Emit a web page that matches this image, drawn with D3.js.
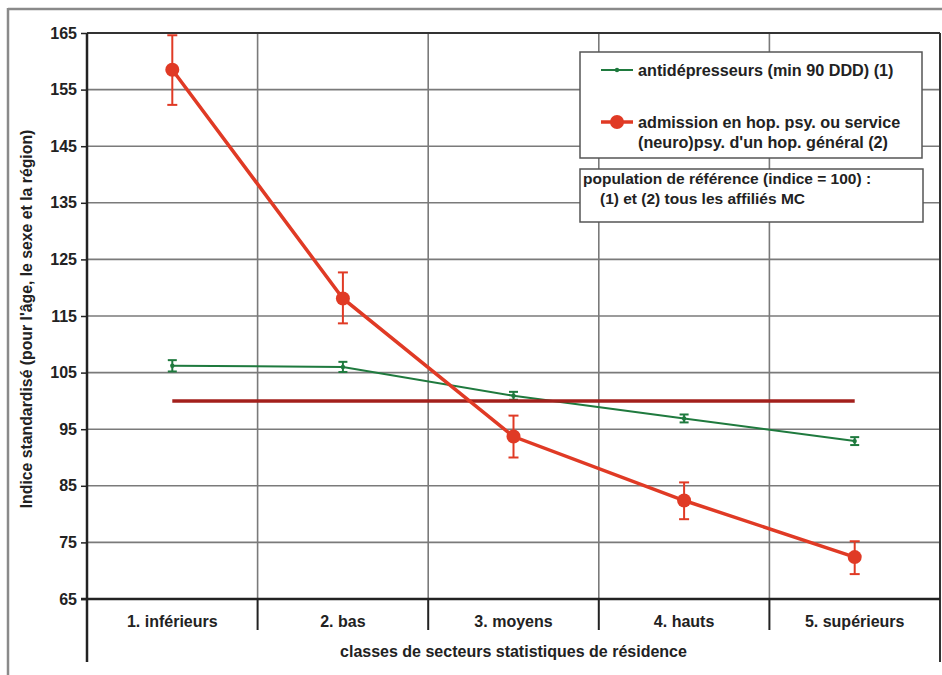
<!DOCTYPE html>
<html>
<head>
<meta charset="utf-8">
<script src="https://cdn.jsdelivr.net/npm/d3@7"></script>
<style>
  html, body { margin: 0; padding: 0; background: #fff; }
  svg { display: block; font-family: "Liberation Sans", Arial, sans-serif; }
</style>
</head>
<body>
<svg id="chart" width="942" height="675"></svg>
<script>
const categories = ["1. inférieurs", "2. bas", "3. moyens", "4. hauts", "5. supérieurs"];
const yTicks = [65, 75, 85, 95, 105, 115, 125, 135, 145, 155, 165];

const antiValues = [106.2, 106.0, 100.9, 96.9, 92.9];
const antiLow    = [105.2, 105.1, 100.2, 96.2, 92.2];
const antiHigh   = [107.2, 106.9, 101.6, 97.6, 93.6];

const admValues  = [158.5, 118.1, 93.7, 82.4, 72.4];
const admLow     = [152.3, 113.7, 90.0, 79.1, 69.4];
const admHigh    = [164.6, 122.7, 97.4, 85.6, 75.2];

const refValue = 100;

const antiLabel = "antidépresseurs (min 90 DDD) (1)";
const admLabel = ["admission en hop. psy. ou service", "(neuro)psy. d'un hop. général (2)"];
const refLabel = ["population de référence (indice = 100) :", "(1) et (2) tous les affiliés MC"];
const yTitle = "Indice standardisé (pour l'âge, le sexe et la région)";
const xTitle = "classes de secteurs statistiques de résidence";

const svg = d3.select("#chart");
const L = 87, R = 940, T = 33, B = 599;

const x = d3.scaleBand().domain(categories).range([L, R]);
const y = d3.scaleLinear().domain([65, 165]).range([B, T]);
const cx = c => x(c) + x.bandwidth() / 2;

// outer frame
svg.append("line").attr("x1", 8).attr("x2", 942).attr("y1", 9).attr("y2", 9)
  .attr("stroke", "#8a8a8a").attr("stroke-width", 2.5);
svg.append("line").attr("x1", 8).attr("x2", 8).attr("y1", 8).attr("y2", 675)
  .attr("stroke", "#8a8a8a").attr("stroke-width", 2.5);

// horizontal grid
svg.append("g").selectAll("line").data(yTicks.filter(t => t > 65 && t < 165)).join("line")
  .attr("x1", L).attr("x2", R).attr("y1", d => y(d)).attr("y2", d => y(d))
  .attr("stroke", "#7a7a7a").attr("stroke-width", 1.6);
// vertical grid
svg.append("g").selectAll("line").data(categories.slice(1)).join("line")
  .attr("x1", d => x(d)).attr("x2", d => x(d)).attr("y1", T).attr("y2", B)
  .attr("stroke", "#7a7a7a").attr("stroke-width", 1.6);

// top and right border of plot
svg.append("line").attr("x1", L).attr("x2", R).attr("y1", T).attr("y2", T)
  .attr("stroke", "#333").attr("stroke-width", 2);
svg.append("line").attr("x1", R).attr("x2", R).attr("y1", T).attr("y2", 662)
  .attr("stroke", "#333").attr("stroke-width", 2);

// y axis
const yAxis = d3.axisLeft(y).tickValues(yTicks).tickSize(6).tickPadding(4);
const gy = svg.append("g").attr("transform", `translate(${L},0)`).call(yAxis);
gy.select(".domain").remove();
gy.selectAll(".tick line").attr("stroke", "#222").attr("stroke-width", 1.5);
gy.selectAll(".tick text").attr("font-size", 16).attr("font-weight", "bold").attr("fill", "#222")
  .attr("font-family", "'Liberation Sans', Arial, sans-serif");
svg.append("line").attr("x1", L).attr("x2", L).attr("y1", T).attr("y2", 662)
  .attr("stroke", "#222").attr("stroke-width", 2.5);
// x axis baseline
svg.append("line").attr("x1", L - 6).attr("x2", R).attr("y1", B).attr("y2", B)
  .attr("stroke", "#222").attr("stroke-width", 2.5);

// category separators and labels
svg.append("g").selectAll("line").data(categories.slice(1)).join("line")
  .attr("x1", d => x(d)).attr("x2", d => x(d)).attr("y1", B).attr("y2", 630)
  .attr("stroke", "#222").attr("stroke-width", 2);
svg.append("g").selectAll("text").data(categories).join("text")
  .attr("x", d => cx(d)).attr("y", 627).attr("text-anchor", "middle")
  .attr("font-size", 16).attr("font-weight", "bold").attr("fill", "#222")
  .text(d => d);
svg.append("text").attr("x", (L + R) / 2).attr("y", 657).attr("text-anchor", "middle")
  .attr("font-size", 16).attr("font-weight", "bold").attr("fill", "#222")
  .text(xTitle);

// y title
svg.append("text").attr("transform", `translate(32,${(T + B) / 2 + 3}) rotate(-90)`)
  .attr("text-anchor", "middle").attr("font-size", 15.8).attr("font-weight", "bold").attr("fill", "#222")
  .text(yTitle);

const line = d3.line().x(d => cx(d.c)).y(d => y(d.v));
const green = "#1f7a3e", red = "#e03a25", darkRed = "#a3201c";

// green series
const antiData = categories.map((c, i) => ({ c, v: antiValues[i], lo: antiLow[i], hi: antiHigh[i] }));
svg.append("path").datum(antiData).attr("d", line).attr("fill", "none")
  .attr("stroke", green).attr("stroke-width", 2);
const ge = svg.append("g").attr("stroke", green).attr("stroke-width", 2);
ge.selectAll(".v").data(antiData).join("line")
  .attr("x1", d => cx(d.c)).attr("x2", d => cx(d.c)).attr("y1", d => y(d.lo)).attr("y2", d => y(d.hi));
ge.selectAll(".t").data(antiData).join("line")
  .attr("x1", d => cx(d.c) - 4.5).attr("x2", d => cx(d.c) + 4.5).attr("y1", d => y(d.hi)).attr("y2", d => y(d.hi));
ge.selectAll(".b").data(antiData).join("line")
  .attr("x1", d => cx(d.c) - 4.5).attr("x2", d => cx(d.c) + 4.5).attr("y1", d => y(d.lo)).attr("y2", d => y(d.lo));
svg.append("g").selectAll("circle").data(antiData).join("circle")
  .attr("cx", d => cx(d.c)).attr("cy", d => y(d.v)).attr("r", 2.2).attr("fill", green);

// reference line
svg.append("line").attr("x1", cx(categories[0])).attr("x2", cx(categories[4]))
  .attr("y1", y(refValue)).attr("y2", y(refValue))
  .attr("stroke", darkRed).attr("stroke-width", 3.5);

// red series
const admData = categories.map((c, i) => ({ c, v: admValues[i], lo: admLow[i], hi: admHigh[i] }));
svg.append("path").datum(admData).attr("d", line).attr("fill", "none")
  .attr("stroke", red).attr("stroke-width", 3.5);
const re = svg.append("g").attr("stroke", red).attr("stroke-width", 2);
re.selectAll(".v").data(admData).join("line")
  .attr("x1", d => cx(d.c)).attr("x2", d => cx(d.c)).attr("y1", d => y(d.lo)).attr("y2", d => y(d.hi));
re.selectAll(".t").data(admData).join("line")
  .attr("x1", d => cx(d.c) - 5).attr("x2", d => cx(d.c) + 5).attr("y1", d => y(d.hi)).attr("y2", d => y(d.hi));
re.selectAll(".b").data(admData).join("line")
  .attr("x1", d => cx(d.c) - 5).attr("x2", d => cx(d.c) + 5).attr("y1", d => y(d.lo)).attr("y2", d => y(d.lo));
svg.append("g").selectAll("circle").data(admData).join("circle")
  .attr("cx", d => cx(d.c)).attr("cy", d => y(d.v)).attr("r", 7).attr("fill", red);

// legend box 1
const lg = svg.append("g");
lg.append("rect").attr("x", 580).attr("y", 52).attr("width", 342).attr("height", 106)
  .attr("fill", "#fff").attr("stroke", "#555").attr("stroke-width", 1.5);
lg.append("line").attr("x1", 601).attr("x2", 633).attr("y1", 70).attr("y2", 70)
  .attr("stroke", green).attr("stroke-width", 2);
lg.append("circle").attr("cx", 617).attr("cy", 70).attr("r", 2.2).attr("fill", green);
lg.append("text").attr("x", 638).attr("y", 76).attr("font-size", 16.2).attr("font-weight", "bold")
  .attr("fill", "#222").text(antiLabel);
lg.append("line").attr("x1", 601).attr("x2", 633).attr("y1", 122).attr("y2", 122)
  .attr("stroke", red).attr("stroke-width", 3.5);
lg.append("circle").attr("cx", 617).attr("cy", 122).attr("r", 7).attr("fill", red);
lg.append("text").attr("x", 638).attr("y", 128).attr("font-size", 16.2).attr("font-weight", "bold")
  .attr("fill", "#222").text(admLabel[0]);
lg.append("text").attr("x", 638).attr("y", 148).attr("font-size", 16.2).attr("font-weight", "bold")
  .attr("fill", "#222").text(admLabel[1]);

// legend box 2
lg.append("rect").attr("x", 580).attr("y", 169).attr("width", 343).attr("height", 53)
  .attr("fill", "#fff").attr("stroke", "#555").attr("stroke-width", 1.5);
lg.append("text").attr("x", 583).attr("y", 184).attr("font-size", 15.5).attr("font-weight", "bold")
  .attr("fill", "#222").text(refLabel[0]);
lg.append("text").attr("x", 600).attr("y", 204).attr("font-size", 15.5).attr("font-weight", "bold")
  .attr("fill", "#222").text(refLabel[1]);
</script>
</body>
</html>
